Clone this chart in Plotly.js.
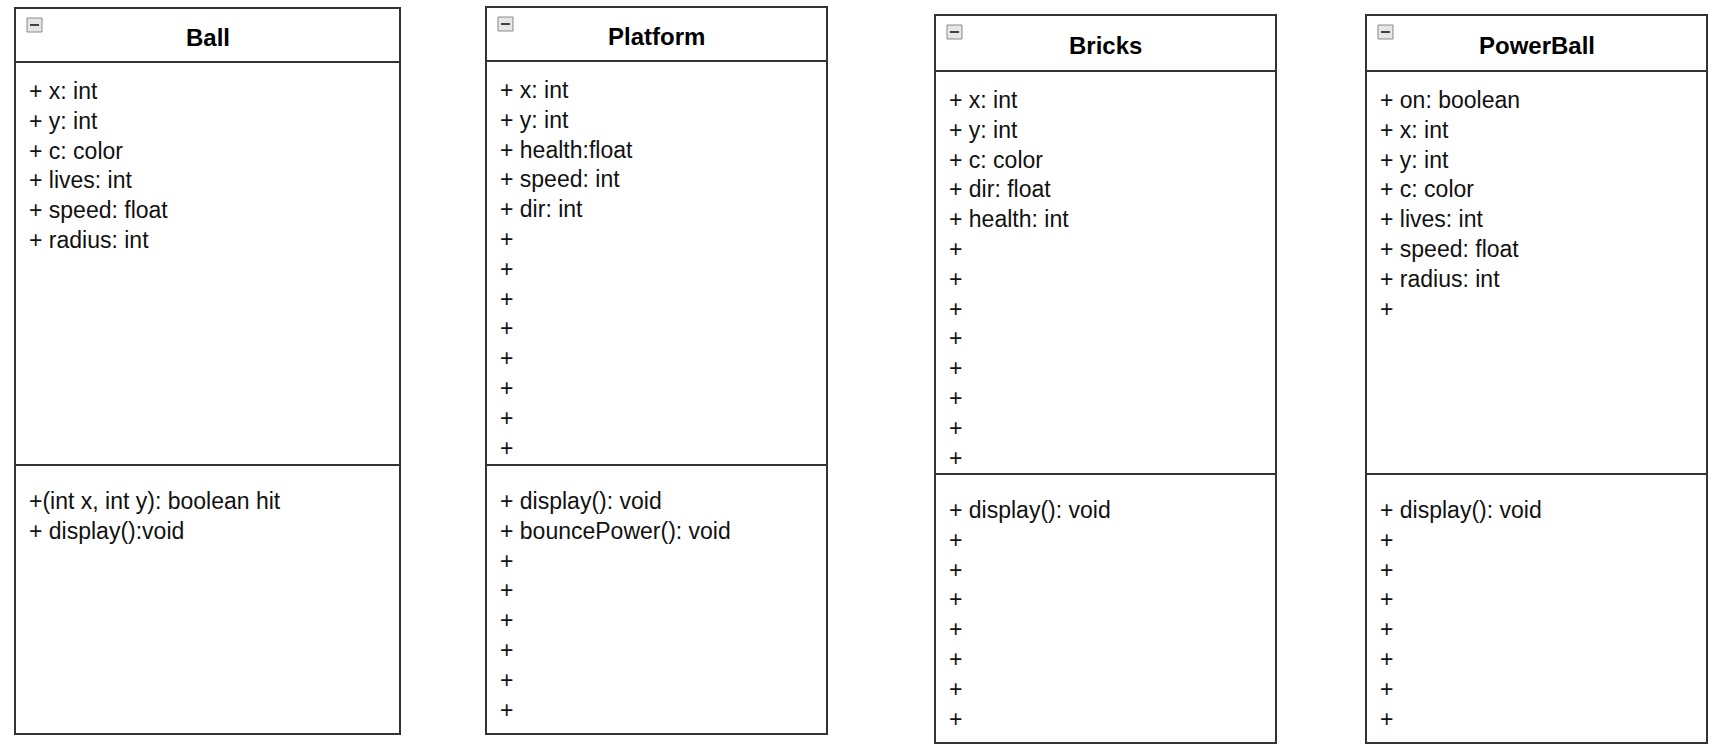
<!DOCTYPE html>
<html><head><meta charset="utf-8">
<script src="https://cdn.plot.ly/plotly-3.0.1.min.js"></script>
<style>html,body{margin:0;padding:0;background:#fff}</style>
</head><body><div id="chart" style="width:1720px;height:752px"></div>
<script>
// ---- data ----
const classNames = ["Ball", "Platform", "Bricks", "PowerBall"];
const ballAttrs = ["+ x: int", "+ y: int", "+ c: color", "+ lives: int", "+ speed: float", "+ radius: int"];
const ballMethods = ["+(int x, int y): boolean hit", "+ display():void"];
const platformAttrs = ["+ x: int", "+ y: int", "+ health:float", "+ speed: int", "+ dir: int", "+", "+", "+", "+", "+", "+", "+", "+"];
const platformMethods = ["+ display(): void", "+ bouncePower(): void", "+", "+", "+", "+", "+", "+"];
const bricksAttrs = ["+ x: int", "+ y: int", "+ c: color", "+ dir: float", "+ health: int", "+", "+", "+", "+", "+", "+", "+", "+"];
const bricksMethods = ["+ display(): void", "+", "+", "+", "+", "+", "+", "+"];
const powerAttrs = ["+ on: boolean", "+ x: int", "+ y: int", "+ c: color", "+ lives: int", "+ speed: float", "+ radius: int", "+"];
const powerMethods = ["+ display(): void", "+", "+", "+", "+", "+", "+", "+"];
const attrLists = [ballAttrs, platformAttrs, bricksAttrs, powerAttrs];
const methodLists = [ballMethods, platformMethods, bricksMethods, powerMethods];

// ---- layout (pixel geometry) ----
const boxes = [
  {x0: 15, x1: 400, y0: 8, y1: 734, head: 62, div: 465},
  {x0: 486, x1: 827, y0: 7, y1: 734, head: 61, div: 465},
  {x0: 935, x1: 1276, y0: 15, y1: 743, head: 71, div: 474},
  {x0: 1366, x1: 1707, y0: 15, y1: 743, head: 71, div: 474}
];
const rowH = 29.8;
const lineC = "#333333";
const font = "Arial, 'Liberation Sans', sans-serif";

const shapes = [], annotations = [];
boxes.forEach((b, i) => {
  shapes.push({type: "rect", x0: b.x0, x1: b.x1, y0: b.y0, y1: b.y1, line: {color: lineC, width: 2}, fillcolor: "#fff", layer: "below"});
  shapes.push({type: "line", x0: b.x0, x1: b.x1, y0: b.head, y1: b.head, line: {color: lineC, width: 2}});
  shapes.push({type: "line", x0: b.x0, x1: b.x1, y0: b.div, y1: b.div, line: {color: lineC, width: 2}});
  // collapse icon
  shapes.push({type: "rect", x0: b.x0 + 12, x1: b.x0 + 27, y0: b.y0 + 10, y1: b.y0 + 24, line: {color: "#8a8a8a", width: 1}, fillcolor: "#e6e6e6"});
  shapes.push({type: "line", x0: b.x0 + 15, x1: b.x0 + 24, y0: b.y0 + 17, y1: b.y0 + 17, line: {color: "#444", width: 2}});
  annotations.push({x: (b.x0 + b.x1) / 2, y: (b.y0 + b.head) / 2 + 2, text: "<b>" + classNames[i] + "</b>", showarrow: false,
    xanchor: "center", yanchor: "middle", font: {family: font, size: 24, color: "#000"}});
  attrLists[i].forEach((t, k) => annotations.push({x: b.x0 + 12, y: b.head + 29 + k * rowH, text: t, showarrow: false,
    xanchor: "left", yanchor: "middle", font: {family: font, size: 23, color: "#111"}}));
  methodLists[i].forEach((t, k) => annotations.push({x: b.x0 + 12, y: b.div + 36 + k * rowH, text: t, showarrow: false,
    xanchor: "left", yanchor: "middle", font: {family: font, size: 23, color: "#111"}}));
});

Plotly.newPlot("chart", [], {
  width: 1720, height: 752, margin: {l: 0, r: 0, t: 0, b: 0},
  paper_bgcolor: "#fff", plot_bgcolor: "#fff",
  xaxis: {range: [0, 1720], visible: false, fixedrange: true},
  yaxis: {range: [752, 0], visible: false, fixedrange: true},
  shapes: shapes, annotations: annotations, showlegend: false
}, {staticPlot: true});
</script></body></html>
